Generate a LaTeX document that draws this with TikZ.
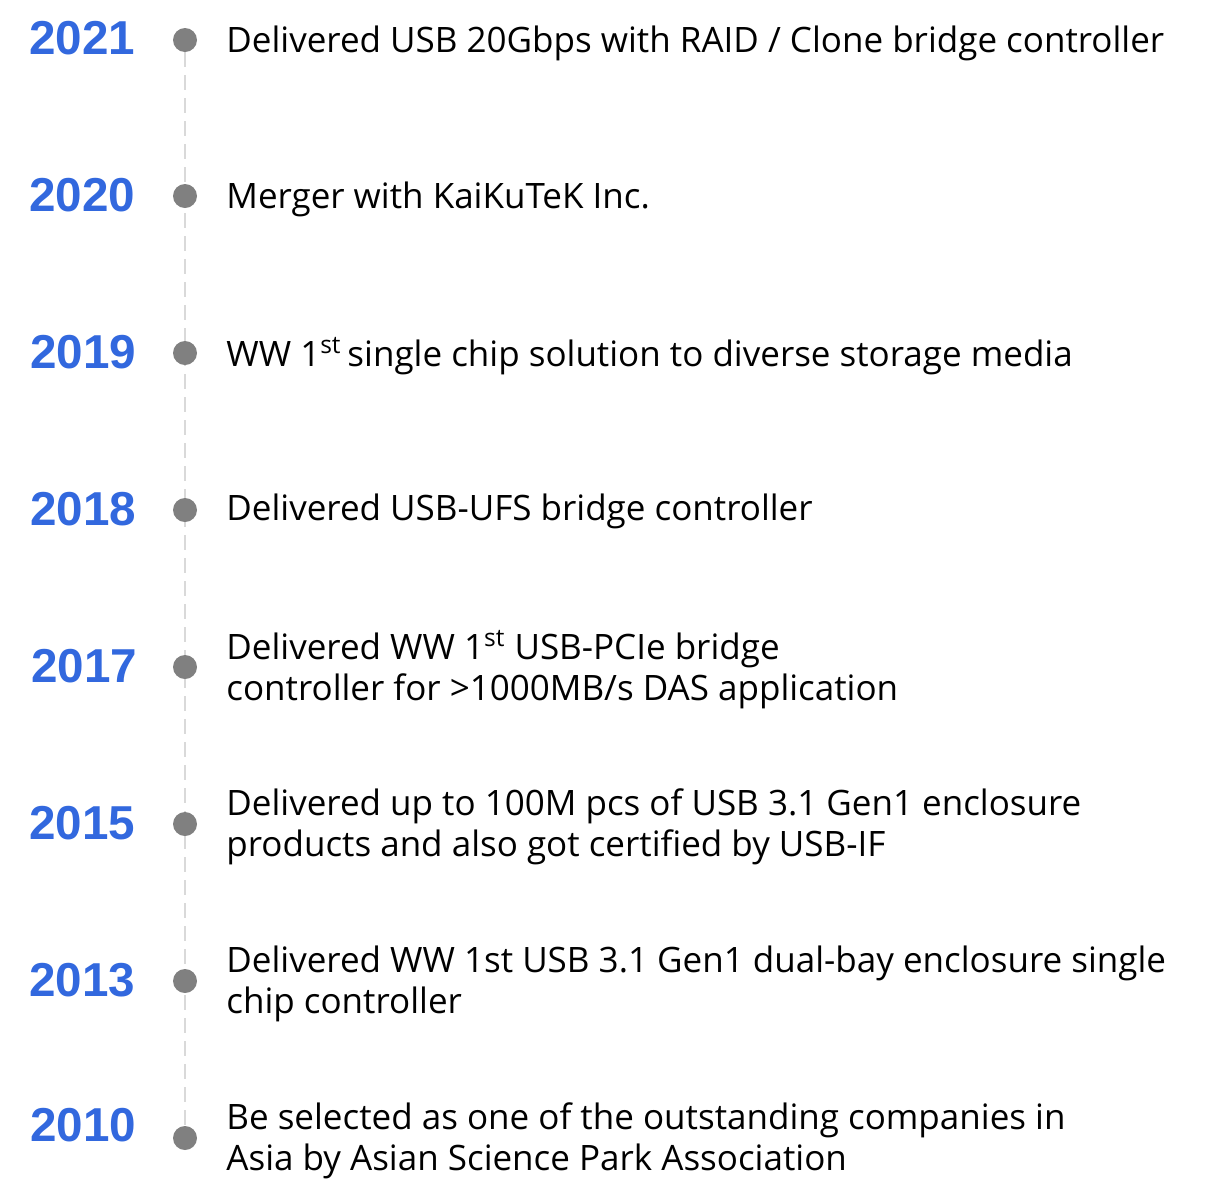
\documentclass[tikz,border=0pt]{standalone}
\usepackage{fontspec}
\setmainfont{Open Sans}
\newfontfamily\yearfont{Liberation Sans}
\usetikzlibrary{backgrounds}
\definecolor{yearblue}{RGB}{50,104,222}
\definecolor{dotgray}{RGB}{128,128,128}
\definecolor{linegray}{RGB}{217,217,217}
\tikzset{
  year/.style={anchor=west, text=yearblue, font=\yearfont\bfseries\fontsize{23.8}{27}\selectfont, inner sep=0pt},
  event/.style={anchor=west, align=left, font=\fontsize{17.5}{20.7}\selectfont, inner sep=0pt},
  dot/.style={circle, fill=dotgray, minimum size=12pt, inner sep=0pt},
}
\begin{document}
\begin{tikzpicture}[x=0.5pt, y=-0.5pt]
\useasboundingbox (0,0) rectangle (1226,1200);

% Points
\node[dot] (d2021) at (185,40) {};
\node[dot] (d2020) at (185,196) {};
\node[dot] (d2019) at (185,353) {};
\node[dot] (d2018) at (185,510) {};
\node[dot] (d2017) at (185,667) {};
\node[dot] (d2015) at (185,824) {};
\node[dot] (d2013) at (185,981) {};
\node[dot] (d2010) at (185,1138) {};

% Line
\begin{scope}[on background layer]
\draw[linegray, line width=1pt, dash pattern=on 7.5pt off 4pt] (d2021) -- (d2010);
\end{scope}

% Years
\node[year] (y2021) at (29,38) {2021};
\node[year] (y2020) at (29,195) {2020};
\node[year] (y2019) at (30,352) {2019};
\node[year] (y2018) at (30,509) {2018};
\node[year] (y2017) at (31,666) {2017};
\node[year] (y2015) at (29,823) {2015};
\node[year] (y2013) at (29,980) {2013};
\node[year] (y2010) at (30,1125) {2010};

% Events
\node[event] (e2021) at (226,43) {Delivered USB 20Gbps with RAID / Clone bridge controller};
\node[event] (e2020) at (226,199) {Merger with KaiKuTeK Inc.};
\node[event] (e2019) at (226,356) {WW 1\textsuperscript{st}\,single chip solution to diverse storage media};
\node[event] (e2018) at (226,511) {Delivered USB-UFS bridge controller};
\node[event] (e2017) at (226,670) {Delivered WW 1\textsuperscript{st} USB-PCIe bridge\\controller for >1000MB/s DAS application};
\node[event] (e2015) at (226,827) {Delivered up to 100M pcs of USB 3.1 Gen1 enclosure\\products and also got certified by USB-IF};
\node[event] (e2013) at (226,984) {Delivered WW 1st USB 3.1 Gen1 dual-bay enclosure single\\chip controller};
\node[event] (e2010) at (226,1141) {Be selected as one of the outstanding companies in\\Asia by Asian Science Park Association};
\end{tikzpicture}
\end{document}
